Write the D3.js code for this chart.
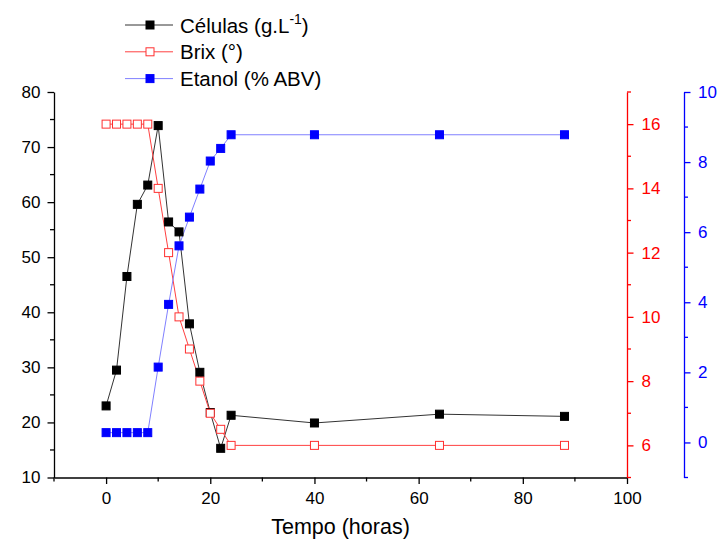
<!DOCTYPE html>
<html><head><meta charset="utf-8">
<script src="https://cdn.jsdelivr.net/npm/d3@7"></script>
<style>body{margin:0;background:#fff}svg{display:block;font-family:"Liberation Sans",Arial,sans-serif}</style>
</head><body><svg id="c" width="717" height="541"></svg>
<script>
const tempo = [0,2,4,6,8,10,12,14,16,18,20,22,24,40,64,88];
const celulas = [23.0,29.5,46.5,59.6,63.1,73.9,56.4,54.6,37.9,29.1,21.8,15.3,21.3,19.9,21.5,21.1];
const brix = [16,16,16,16,16,14,12,10,9,8,7,6.5,6,6,6,6];
const etanol = [0.28,0.28,0.28,0.28,0.28,2.15,3.94,5.61,6.43,7.23,8.03,8.39,8.78,8.78,8.78,8.78];
const xTicks = [0,20,40,60,80,100];
const leftTicks = [10,20,30,40,50,60,70,80];
const brixTicks = [6,8,10,12,14,16];
const etTicks = [0,2,4,6,8,10];

(function(){
const svg = d3.select("#c");
const pTop = 92, pBottom = 477.5, pLeft = 54, pRight = 627, blueX = 684;
const x = d3.scaleLinear().domain([-10,100]).range([pLeft,pRight]);
const yL = d3.scaleLinear().domain([10,80]).range([pBottom,pTop]);
const yR = d3.scaleLinear().domain([5,17]).range([pBottom,pTop]);
const yB = d3.scaleLinear().domain([-1,10]).range([pBottom,pTop]);
const FS = 17;

function styleAxis(g, color, fs){
  g.select(".domain").attr("stroke",color).attr("stroke-width",1.3);
  g.selectAll(".tick line").attr("stroke",color).attr("stroke-width",1.3);
  g.selectAll(".tick text").attr("fill",color).style("font-size",fs+"px").style("font-family","'Liberation Sans',Arial,sans-serif");
}
function minor(g, scale, vals, orient, len, color){
  vals.forEach(v=>{
    const p = scale(v);
    let ln;
    if(orient==="left") ln = g.append("line").attr("x1",0).attr("x2",-len).attr("y1",p).attr("y2",p);
    if(orient==="right") ln = g.append("line").attr("x1",0).attr("x2",len).attr("y1",p).attr("y2",p);
    if(orient==="bottom") ln = g.append("line").attr("y1",0).attr("y2",len).attr("x1",p).attr("x2",p);
    ln.attr("stroke",color).attr("stroke-width",1.3);
  });
}

const gx = svg.append("g").attr("transform",`translate(0,${pBottom})`)
  .call(d3.axisBottom(x).tickValues(xTicks).tickSize(6.5).tickSizeOuter(0).tickPadding(7.5));
styleAxis(gx,"#000",FS);
minor(gx,x,[-10,10,30,50,70,90],"bottom",4,"#000");

const gl = svg.append("g").attr("transform",`translate(${pLeft},0)`)
  .call(d3.axisLeft(yL).tickValues(leftTicks).tickSize(6.5).tickSizeOuter(0).tickPadding(7));
styleAxis(gl,"#000",FS);
minor(gl,yL,[15,25,35,45,55,65,75],"left",4,"#000");

const gr = svg.append("g").attr("transform",`translate(${pRight},0)`)
  .call(d3.axisRight(yR).tickValues(brixTicks).tickSize(6.5).tickSizeOuter(0).tickPadding(8));
styleAxis(gr,"#ff0000",FS);
minor(gr,yR,[5,7,9,11,13,15,17],"right",4,"#ff0000");

const gb = svg.append("g").attr("transform",`translate(${blueX},0)`)
  .call(d3.axisRight(yB).tickValues(etTicks).tickSize(6.5).tickSizeOuter(0).tickPadding(7.5));
styleAxis(gb,"#0000ff",FS);
minor(gb,yB,[-1,1,3,5,7,9],"right",4,"#0000ff");

svg.append("text").attr("x",340.5).attr("y",534).attr("text-anchor","middle")
  .style("font-size","21.5px").text("Tempo (horas)");

const series = [
  {vals:celulas, y:yL, line:"#333333", fill:"#000000", stroke:"#000000"},
  {vals:brix, y:yR, line:"#ff4040", fill:"#ffffff", stroke:"#ff3030"},
  {vals:etanol, y:yB, line:"#8080ff", fill:"#0000ff", stroke:"#0000ff"}
];
const ms = 8;
series.forEach(s=>{
  const data = tempo.map((t,i)=>[t,s.vals[i]]);
  svg.append("path").datum(data)
    .attr("fill","none").attr("stroke",s.line).attr("stroke-width",1)
    .attr("d",d3.line().x(d=>x(d[0])).y(d=>s.y(d[1])));
});
series.forEach(s=>{
  const data = tempo.map((t,i)=>[t,s.vals[i]]);
  svg.append("g").selectAll("rect").data(data).join("rect")
    .attr("x",d=>x(d[0])-ms/2).attr("y",d=>s.y(d[1])-ms/2)
    .attr("width",ms).attr("height",ms)
    .attr("fill",s.fill).attr("stroke",s.stroke).attr("stroke-width",1);
});

const legend = [
  {label:"Células (g.L", sup:"-1", tail:")", line:"#333333", fill:"#000000", stroke:"#000000"},
  {label:"Brix (°)", line:"#ff4040", fill:"#ffffff", stroke:"#ff3030"},
  {label:"Etanol (% ABV)", line:"#8080ff", fill:"#0000ff", stroke:"#0000ff"}
];
legend.forEach((l,i)=>{
  const yy = 25 + i*26.8;
  const g = svg.append("g");
  g.append("line").attr("x1",125).attr("x2",173).attr("y1",yy).attr("y2",yy).attr("stroke",l.line).attr("stroke-width",1);
  g.append("rect").attr("x",150-ms/2).attr("y",yy-ms/2).attr("width",ms).attr("height",ms)
    .attr("fill",l.fill).attr("stroke",l.stroke);
  const t = g.append("text").attr("x",180).attr("y",yy+7.5).style("font-size","20.5px");
  t.append("tspan").text(l.label);
  if(l.sup){
    t.append("tspan").attr("dy",-9).style("font-size","14px").text(l.sup);
    t.append("tspan").attr("dy",9).text(l.tail);
  }
});
})();
</script></body></html>
